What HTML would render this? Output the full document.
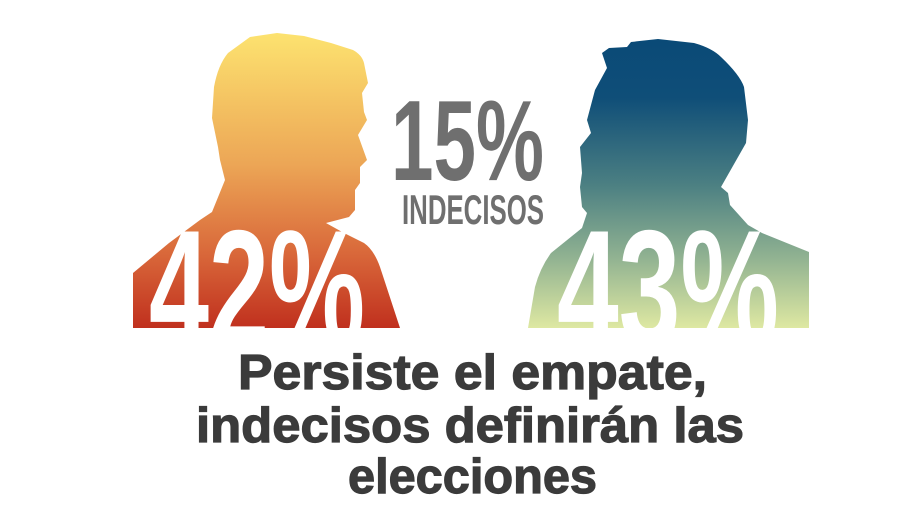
<!DOCTYPE html>
<html><head><meta charset="utf-8"><style>
html,body{margin:0;padding:0;background:#fff;width:918px;height:518px;overflow:hidden}
</style></head><body>
<svg width="918" height="518" viewBox="0 0 918 518" xmlns="http://www.w3.org/2000/svg">
<defs>
<linearGradient id="gl" x1="0" y1="30" x2="0" y2="328" gradientUnits="userSpaceOnUse">
<stop offset="0" stop-color="#fde470"/><stop offset="0.45" stop-color="#eca656"/><stop offset="0.75" stop-color="#d9683a"/><stop offset="1" stop-color="#c0301e"/></linearGradient>
<linearGradient id="gr" x1="0" y1="40" x2="0" y2="328" gradientUnits="userSpaceOnUse">
<stop offset="0" stop-color="#0a4a77"/><stop offset="0.2" stop-color="#0f4e78"/><stop offset="0.5" stop-color="#4b7f82"/><stop offset="0.75" stop-color="#8fb191"/><stop offset="1" stop-color="#dee8a2"/></linearGradient>
<clipPath id="c"><rect x="0" y="0" width="918" height="328"/></clipPath>
</defs>
<path fill="url(#gl)" d="M133,328 L133,273 L169,243 L200,220 L212,212 L225,180 L220,160 L218,147 L212,118 L214,87 Q218,65 228,53 L250,37 L277,33 L304,36 L331,43 L353,50 Q362,55 364,63 L368,83 L362,93 L364,112 L367,120 L358,135 L367,160 L360,167 L360,183 L355,190 L355,210 L349,217 L326,223 L344,233 L364,243 Q374,250 380,267 L400,328 Z"/>
<path fill="url(#gr)" d="M528,328 L535,287 Q540,268 551,253 L582,228 L587,213 L582,207 L580,187 L582,173 L580,147 L591,133 L587,120 L595,90 L607,68 L602,53 L609,48 L627,47 L631,42 L658,39 L694,43 Q712,48 721,57 Q740,75 744,87 L748,120 L746,143 L721,187 L728,193 L730,205 L748,225 L762,233 L809,252 L809,328 Z"/>
<g clip-path="url(#c)" fill="#fff" font-family="Liberation Sans, sans-serif" font-weight="bold">
<text x="149" y="345" font-size="165" textLength="216" lengthAdjust="spacingAndGlyphs">42%</text>
<text x="557" y="345" font-size="165" textLength="222" lengthAdjust="spacingAndGlyphs">43%</text>
</g>
<g fill="#6f6f6f" font-family="Liberation Sans, sans-serif" font-weight="bold">
<text x="391" y="180" font-size="114" textLength="153" lengthAdjust="spacingAndGlyphs">15%</text>
<text x="402" y="224" font-size="42" textLength="142" lengthAdjust="spacingAndGlyphs">INDECISOS</text>
</g>
<g fill="#3b3b3b" font-family="Liberation Sans, sans-serif" font-weight="bold" font-size="49" stroke="#3b3b3b" stroke-width="1.2">
<text x="238" y="389" textLength="469" lengthAdjust="spacingAndGlyphs">Persiste el empate,</text>
<text x="196" y="442" textLength="548" lengthAdjust="spacingAndGlyphs">indecisos definirán las</text>
<text x="348" y="493" textLength="249" lengthAdjust="spacingAndGlyphs">elecciones</text>
</g>
</svg>
</body></html>
